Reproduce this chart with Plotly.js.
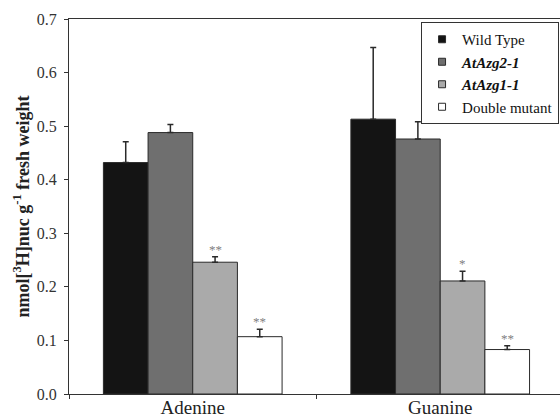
<!DOCTYPE html>
<html>
<head>
<meta charset="utf-8">
<script src="https://cdn.plot.ly/plotly-3.0.1.min.js"></script>
<style>html,body{margin:0;padding:0;overflow:hidden;background:#fff;}#chart{width:560px;height:420px;}</style>
</head>
<body>
<div id="chart"></div>
<script>
// ---- data ----
const categories = ['Adenine', 'Guanine'];
const seriesNames = ['Wild Type', '<b><i>AtAzg2-1</i></b>', '<b><i>AtAzg1-1</i></b>', 'Double mutant'];
const wildType = [0.432, 0.513];
const wildTypeErr = [0.039, 0.134];
const atAzg2 = [0.488, 0.476];
const atAzg2Err = [0.015, 0.032];
const atAzg1 = [0.246, 0.211];
const atAzg1Err = [0.010, 0.018];
const doubleMutant = [0.107, 0.083];
const doubleMutantErr = [0.014, 0.007];
const significance = [['', '', '**', '**'], ['', '', '*', '**']];
const yTickVals = [0, 0.1, 0.2, 0.3, 0.4, 0.5, 0.6, 0.7];

// ---- styles ----
const colors = ['#141414', '#6f6f6f', '#aaaaaa', '#ffffff'];
const font = '"Liberation Serif", "Times New Roman", Times, serif';
const bargap = 0.278;

const values = [wildType, atAzg2, atAzg1, doubleMutant];
const errs = [wildTypeErr, atAzg2Err, atAzg1Err, doubleMutantErr];

const traces = [];
values.forEach((v, i) => {
  traces.push({
    type: 'bar', x: categories, y: v, name: seriesNames[i], showlegend: false,
    marker: {color: colors[i], line: {color: '#2a2a2a', width: 1}},
    error_y: {type: 'data', array: errs[i], arrayminus: v.map(() => 0), symmetric: false,
              color: '#2a2a2a', thickness: 1.5, width: 3}
  });
});
// legend entries (small square swatches)
values.forEach((v, i) => {
  traces.push({
    type: 'scatter', mode: 'markers', x: [null], y: [null], name: seriesNames[i],
    marker: {symbol: 'square', size: 7, color: colors[i], line: {color: '#2a2a2a', width: 1}},
    hoverinfo: 'skip'
  });
});

const nSeries = values.length;
const w = (1 - bargap) / nSeries;
const annotations = [];
categories.forEach((c, ci) => {
  values.forEach((v, si) => {
    const txt = significance[ci][si];
    if (!txt) return;
    annotations.push({
      x: ci + (si - (nSeries - 1) / 2) * w, y: v[ci] + errs[si][ci],
      xref: 'x', yref: 'y', text: txt, showarrow: false,
      yanchor: 'bottom', yshift: -2,
      font: {family: font, size: 13, color: '#808080'}
    });
  });
});

const layout = {
  width: 560, height: 420,
  margin: {l: 69, r: 0, t: 19, b: 26, pad: 0},
  paper_bgcolor: '#fff', plot_bgcolor: '#fff',
  barmode: 'group', bargap: bargap, bargroupgap: 0,
  font: {family: font, color: '#222'},
  xaxis: {
    type: 'category', range: [-0.5, 1.484], tickson: 'boundaries',
    showline: true, linecolor: '#333', linewidth: 1, mirror: true,
    ticks: 'outside', ticklen: 4, tickcolor: '#333', ticklabelstandoff: -4,
    tickfont: {family: font, size: 19, color: '#222'}, showgrid: false, zeroline: false
  },
  yaxis: {
    range: [0, 0.7], tickvals: yTickVals, tickformat: '.1f',
    showline: true, linecolor: '#333', linewidth: 1,
    ticks: 'outside', ticklen: 4, tickcolor: '#333', ticklabelstandoff: 4,
    tickfont: {family: font, size: 16, color: '#333'}, showgrid: false, zeroline: false,
    title: {text: '<b>nmol[<sup>3</sup>H]nuc g<sup>-1</sup> fresh weight</b>',
            font: {family: font, size: 18, color: '#222'}, standoff: 2}
  },
  legend: {
    x: 0.717, y: 0.992, xanchor: 'left', yanchor: 'top',
    bgcolor: '#fff', bordercolor: '#333', borderwidth: 1,
    font: {family: font, size: 15, color: '#111'}, itemwidth: 30, tracegroupgap: 0
  },
  annotations: annotations,
  showlegend: true
};

Plotly.newPlot('chart', traces, layout, {staticPlot: true, displayModeBar: false});
</script>
</body>
</html>
